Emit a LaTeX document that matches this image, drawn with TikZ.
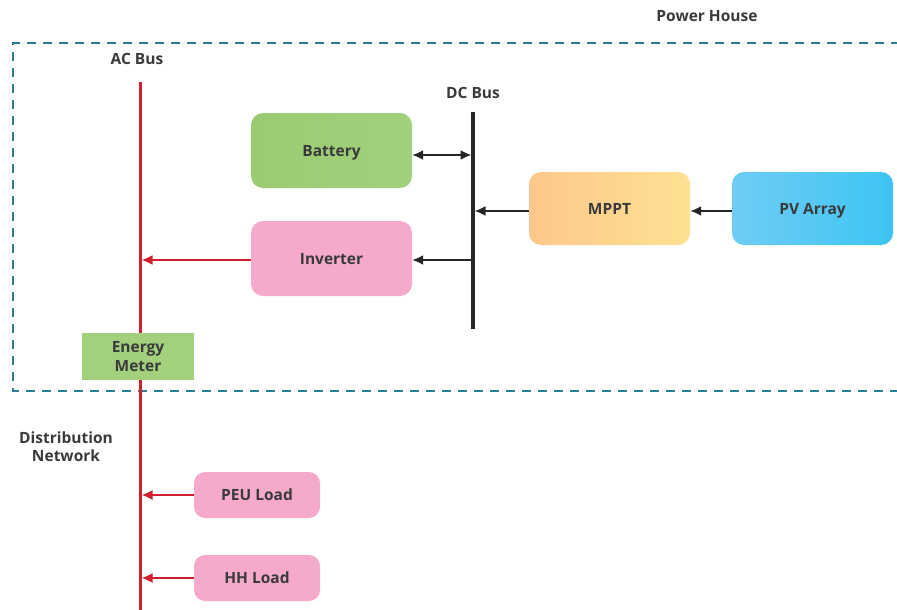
\documentclass[tikz,border=0pt]{standalone}
\usepackage{fontspec}
\setmainfont{Open Sans}
\usetikzlibrary{arrows.meta}
\definecolor{txt}{HTML}{3A3A3A}
\definecolor{acred}{HTML}{D01F2E}
\definecolor{dashc}{HTML}{2A7F96}
\definecolor{batg}{HTML}{A2D07C}
\definecolor{batg2}{HTML}{9ACB72}
\definecolor{pinkc}{HTML}{F5AACB}
\definecolor{mpptl}{HTML}{FDC88A}
\definecolor{mpptr}{HTML}{FEE193}
\definecolor{pvl}{HTML}{6FCDF5}
\definecolor{pvr}{HTML}{3DC4F2}
\tikzset{
  lbl/.style={font=\bfseries\fontsize{15.5}{18.5}\selectfont, text=txt, align=center},
  blk/.style={lbl, rounded corners=12pt, minimum width=161pt, minimum height=75pt, inner sep=0pt, text depth=0pt},
  load/.style={lbl, rounded corners=11pt, fill=pinkc, minimum width=126pt, minimum height=46pt, inner sep=0pt, text depth=0pt},
  blackarr/.style={-{Latex[length=11pt,width=10pt]}, line width=1.8pt, draw=black!85},
  redarr/.style={-{Latex[length=11pt,width=10pt]}, line width=1.8pt, draw=acred},
}
\begin{document}
\begin{tikzpicture}[x=1pt,y=-1pt]
\useasboundingbox (0,0) rectangle (897,610);
% dashed power house box (open at right)
\draw[dashc, line width=1.8pt, dash pattern=on 9pt off 7pt] (900,43) -- (13,43) -- (13,391) -- (900,391);
\node[lbl] (ph) at (707,16) {Power House};
% AC bus
\node[lbl] (acl) at (137,59) {AC Bus};
\coordinate (actop) at (140,82);
\coordinate (acbot) at (140,612);
\draw[acred, line width=3pt] (actop) -- (acbot);
% DC bus
\node[lbl] (dcl) at (473,93) {DC Bus};
\coordinate (dctop) at (473,112);
\coordinate (dcbot) at (473,329);
\draw[black!85, line width=3.5pt] (dctop) -- (dcbot);
% blocks
\node[blk, left color=batg2, right color=batg] (bat) at (331.5,150.5) {Battery};
\node[blk, fill=pinkc] (inv) at (331.5,258.5) {Inverter};
\node[blk, left color=mpptl, right color=mpptr, minimum height=73pt] (mppt) at (609.5,208.5) {MPPT};
\node[blk, left color=pvl, right color=pvr, minimum height=73pt] (pv) at (812.5,208.5) {PV Array};
\node[lbl, fill=batg, minimum width=112pt, minimum height=47pt, inner sep=0pt] (em) at (138,356.5) {Energy\\Meter};
\node[lbl] (dist) at (66,446.5) {Distribution\\Network};
\node[load] (peu) at (257,495) {PEU Load};
\node[load] (hh) at (257,578) {HH Load};
% connectors
\coordinate (dcb) at (471.5,155);
\coordinate (dci) at (471.5,260);
\coordinate (dcm) at (474.5,211);
\draw[blackarr, {Latex[length=11pt,width=10pt]}-{Latex[length=11pt,width=10pt]}] (bat.east |- dcb) -- (dcb);
\draw[blackarr] (dci) -- (inv.east |- dci);
\draw[blackarr] (mppt.west |- dcm) -- (dcm);
\draw[blackarr] (pv.west |- dcm) -- (mppt.east |- dcm);
\coordinate (aci) at (141.5,260);
\coordinate (acp) at (141.5,495);
\coordinate (ach) at (141.5,578);
\draw[redarr] (inv.west |- aci) -- (aci);
\draw[redarr] (peu.west) -- (acp);
\draw[redarr] (hh.west) -- (ach);
\end{tikzpicture}
\end{document}
